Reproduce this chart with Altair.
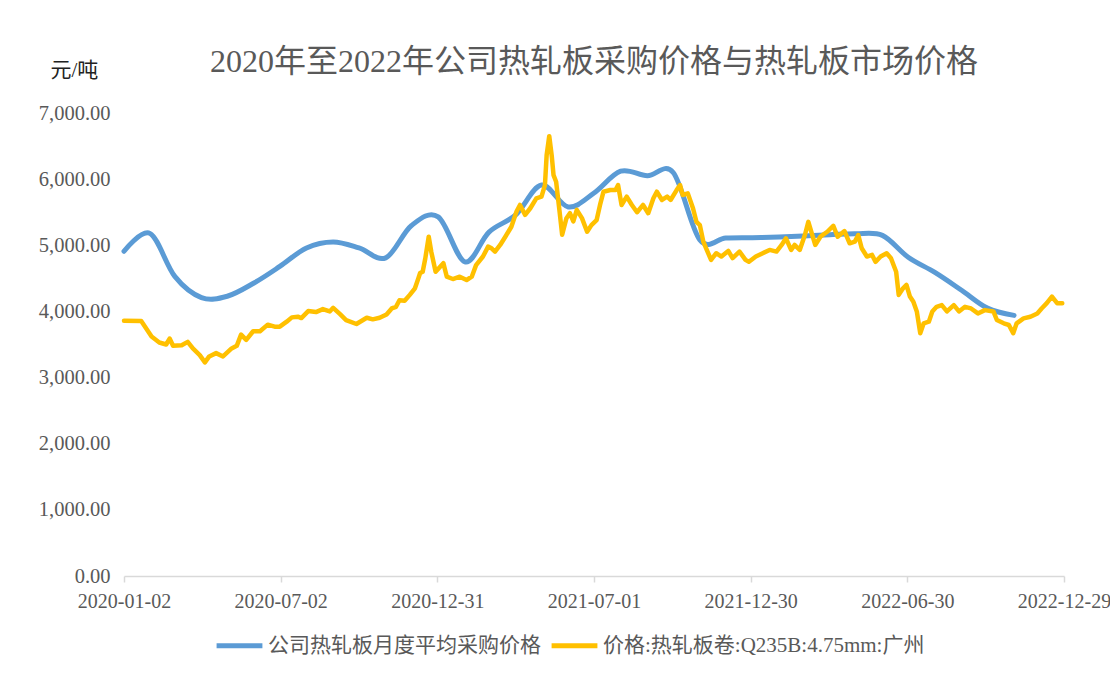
import altair as alt
import pandas as pd

BLUE_NAME = "公司热轧板月度平均采购价格"
YELLOW_NAME = "价格:热轧板卷:Q235B:4.75mm:广州"

# Monthly average purchase price (company)
blue_dates = [
    "2020-01-02", "2020-02-01", "2020-03-01", "2020-04-01", "2020-05-01", "2020-06-01",
    "2020-07-01", "2020-08-01", "2020-09-01", "2020-10-01", "2020-11-01", "2020-12-01",
    "2021-01-01", "2021-02-01", "2021-03-01", "2021-04-01", "2021-05-01", "2021-06-01",
    "2021-07-01", "2021-08-01", "2021-09-01", "2021-10-01", "2021-11-01", "2021-12-01",
    "2022-01-01", "2022-02-01", "2022-03-01", "2022-04-01", "2022-05-01", "2022-06-01",
    "2022-07-01", "2022-08-01", "2022-09-01", "2022-10-01", "2022-11-01",
]
blue_values = [
    4910, 5180, 4530, 4210, 4230, 4430,
    4680, 4960, 5050, 4960, 4810, 5300,
    5430, 4750, 5200, 5460, 5910, 5580,
    5790, 6120, 6050, 6100, 5080, 5110,
    5115, 5125, 5140, 5160, 5175, 5150,
    4820, 4590, 4320, 4050, 3940,
]

# Market price: hot rolled coil Q235B 4.75mm Guangzhou
yellow_dates = [
    "2020-01-02", "2020-01-22", "2020-02-03", "2020-02-12", "2020-02-20", "2020-02-24",
    "2020-02-28", "2020-03-09", "2020-03-16", "2020-03-22", "2020-03-30", "2020-04-05",
    "2020-04-10", "2020-04-18", "2020-04-26", "2020-05-06", "2020-05-12", "2020-05-17",
    "2020-05-23", "2020-05-31", "2020-06-08", "2020-06-17", "2020-06-25", "2020-07-01",
    "2020-07-09", "2020-07-15", "2020-07-22", "2020-07-26", "2020-08-03", "2020-08-12",
    "2020-08-20", "2020-08-28", "2020-09-01", "2020-09-09", "2020-09-16", "2020-09-28",
    "2020-10-10", "2020-10-17", "2020-10-25", "2020-11-02", "2020-11-08", "2020-11-13",
    "2020-11-17", "2020-11-23", "2020-11-29", "2020-12-05", "2020-12-09", "2020-12-11",
    "2020-12-14", "2020-12-17", "2020-12-21", "2020-12-24", "2020-12-29", "2021-01-07",
    "2021-01-11", "2021-01-18", "2021-01-26", "2021-02-03", "2021-02-09", "2021-02-14",
    "2021-02-22", "2021-02-28", "2021-03-04", "2021-03-08", "2021-03-14", "2021-03-20",
    "2021-03-27", "2021-04-02", "2021-04-06", "2021-04-12", "2021-04-18", "2021-04-25",
    "2021-05-01", "2021-05-05", "2021-05-07", "2021-05-10", "2021-05-13", "2021-05-15",
    "2021-05-18", "2021-05-22", "2021-05-25", "2021-05-30", "2021-06-03", "2021-06-07",
    "2021-06-11", "2021-06-17", "2021-06-23", "2021-06-28", "2021-07-04", "2021-07-08",
    "2021-07-12", "2021-07-20", "2021-07-26", "2021-07-29", "2021-08-02", "2021-08-08",
    "2021-08-14", "2021-08-20", "2021-08-27", "2021-09-02", "2021-09-08", "2021-09-12",
    "2021-09-18", "2021-09-24", "2021-09-28", "2021-10-05", "2021-10-09", "2021-10-12",
    "2021-10-18", "2021-10-24", "2021-10-28", "2021-11-01", "2021-11-05", "2021-11-09",
    "2021-11-14", "2021-11-20", "2021-11-26", "2021-12-04", "2021-12-09", "2021-12-17",
    "2021-12-24", "2021-12-28", "2022-01-05", "2022-01-13", "2022-01-21", "2022-01-29",
    "2022-02-04", "2022-02-09", "2022-02-15", "2022-02-19", "2022-02-25", "2022-03-03",
    "2022-03-07", "2022-03-11", "2022-03-15", "2022-03-21", "2022-03-29", "2022-04-05",
    "2022-04-10", "2022-04-18", "2022-04-24", "2022-04-30", "2022-05-04", "2022-05-08",
    "2022-05-14", "2022-05-20", "2022-05-24", "2022-05-30", "2022-06-06", "2022-06-11",
    "2022-06-17", "2022-06-20", "2022-06-25", "2022-06-29", "2022-07-03", "2022-07-07",
    "2022-07-11", "2022-07-15", "2022-07-19", "2022-07-25", "2022-07-29", "2022-08-03",
    "2022-08-09", "2022-08-15", "2022-08-23", "2022-08-29", "2022-09-05", "2022-09-12",
    "2022-09-20", "2022-09-28", "2022-10-08", "2022-10-12", "2022-10-20", "2022-10-26",
    "2022-10-31", "2022-11-04", "2022-11-12", "2022-11-20", "2022-11-28", "2022-12-03",
    "2022-12-09", "2022-12-15", "2022-12-21", "2022-12-27",
]
yellow_values = [
    3860, 3855, 3620, 3530, 3500, 3590,
    3480, 3490, 3540, 3440, 3340, 3230,
    3320, 3370, 3320, 3440, 3480, 3650,
    3570, 3700, 3700, 3800, 3770, 3770,
    3845, 3910, 3920, 3900, 4005, 3990,
    4035, 4000, 4055, 3960, 3870, 3810,
    3905, 3880, 3905, 3955, 4045, 4070,
    4170, 4160, 4250, 4350, 4500, 4580,
    4600, 4800, 5130, 4900, 4600, 4730,
    4525, 4490, 4525, 4475, 4525, 4700,
    4830, 4980, 4955, 4905, 5005, 5130,
    5280, 5510, 5610, 5460, 5560, 5710,
    5735, 5910, 6365, 6650, 6340, 6060,
    5960, 5510, 5160, 5410, 5485, 5360,
    5535, 5410, 5205, 5305, 5380, 5610,
    5810, 5835, 5835, 5910, 5610, 5735,
    5610, 5500, 5610, 5485, 5710, 5810,
    5685, 5735, 5685, 5835, 5910, 5760,
    5785, 5560, 5355, 5305, 5055, 4930,
    4780, 4880, 4830, 4915, 4805, 4905,
    4780, 4750, 4830, 4880, 4930, 4905,
    5005, 5105, 4930, 5005, 4930, 5155,
    5355, 5180, 5005, 5130, 5205, 5295,
    5130, 5215, 5030, 5055, 5155, 4955,
    4830, 4855, 4750, 4830, 4880, 4805,
    4600, 4250, 4350, 4400, 4225, 4145,
    4000, 3670, 3820, 3845, 4000, 4070,
    4095, 4000, 4095, 4000, 4070, 4045,
    3970, 4020, 4000, 3870, 3820, 3795,
    3670, 3820, 3895, 3920, 3970, 4045,
    4125, 4225, 4125, 4125,
]

x_tick_dates = ["2020-01-02", "2020-07-02", "2020-12-31", "2021-07-01",
                "2021-12-30", "2022-06-30", "2022-12-29"]
y_ticks = [0, 1000, 2000, 3000, 4000, 5000, 6000, 7000]

TITLE = "2020年至2022年公司热轧板采购价格与热轧板市场价格"
UNIT = "元/吨"

blue_df = pd.DataFrame({"date": blue_dates, "price": blue_values, "series": BLUE_NAME})
yellow_df = pd.DataFrame({"date": yellow_dates, "price": yellow_values, "series": YELLOW_NAME})


def dt(s):
    y, m, d = (int(p) for p in s.split("-"))
    return alt.DateTime(year=y, month=m, date=d, utc=True)


FONT = "Liberation Serif, Noto Sans CJK SC"
GREY = "#595959"

x_enc = alt.X(
    "date:T",
    scale=alt.Scale(type="utc", domain=[dt(x_tick_dates[0]), dt(x_tick_dates[-1])]),
    axis=alt.Axis(
        values=[dt(s) for s in x_tick_dates],
        labelExpr="utcFormat(datum.value, '%Y-%m-%d')",
        title=None,
        grid=False,
        domainColor="#D9D9D9",
        domainWidth=1.5,
        tickColor="#D9D9D9",
        tickWidth=1.5,
        tickSize=6,
        labelFont=FONT,
        labelFontSize=20,
        labelColor=GREY,
        labelPadding=9,
        labelFlush=False,
        labelOverlap=False,
    ),
)

y_enc = alt.Y(
    "price:Q",
    scale=alt.Scale(domain=[0, 7000], nice=False),
    axis=alt.Axis(
        values=y_ticks,
        format=",.2f",
        grid=False,
        domain=False,
        ticks=False,
        labelFont=FONT,
        labelFontSize=20.5,
        labelColor=GREY,
        labelPadding=14,
        title=UNIT,
        titleAngle=0,
        titleFont=FONT,
        titleFontSize=21,
        titleFontWeight="normal",
        titleColor="#222222",
        titleAlign="left",
        titleBaseline="middle",
        titleX=-74,
        titleY=-43,
    ),
)

color_enc = alt.Color(
    "series:N",
    scale=alt.Scale(domain=[BLUE_NAME, YELLOW_NAME], range=["#5B9BD5", "#FFC000"]),
    legend=alt.Legend(
        title=None,
        orient="none",
        legendX=90,
        legendY=507,
        direction="horizontal",
        symbolType="stroke",
        symbolSize=2100,
        symbolStrokeWidth=5,
        labelFont=FONT,
        labelFontSize=21,
        labelColor=GREY,
        labelLimit=500,
        labelOffset=3,
        columnPadding=0,
    ),
)

blue_line = alt.Chart(blue_df).mark_line(
    interpolate="cardinal", strokeWidth=5, strokeCap="round", strokeJoin="round"
).encode(x=x_enc, y=y_enc, color=color_enc)

yellow_line = alt.Chart(yellow_df).mark_line(
    strokeWidth=4.5, strokeCap="round", strokeJoin="round"
).encode(x=x_enc, y=y_enc, color=color_enc)

chart = (
    alt.layer(blue_line, yellow_line)
    .properties(
        width=940,
        height=463,
        autosize=alt.AutoSizeParams(type="none"),
        padding={"left": 116, "top": 105, "right": 46, "bottom": 85},
        title=alt.TitleParams(
            text=TITLE,
            font=FONT,
            fontSize=32,
            fontWeight="normal",
            color=GREY,
            anchor="middle",
            offset=8,
            dy=28,
        ),
    )
    .configure(background="white")
    .configure_view(stroke=None)
)

chart.save("out.html", embed_options={"renderer": "svg", "actions": False})
